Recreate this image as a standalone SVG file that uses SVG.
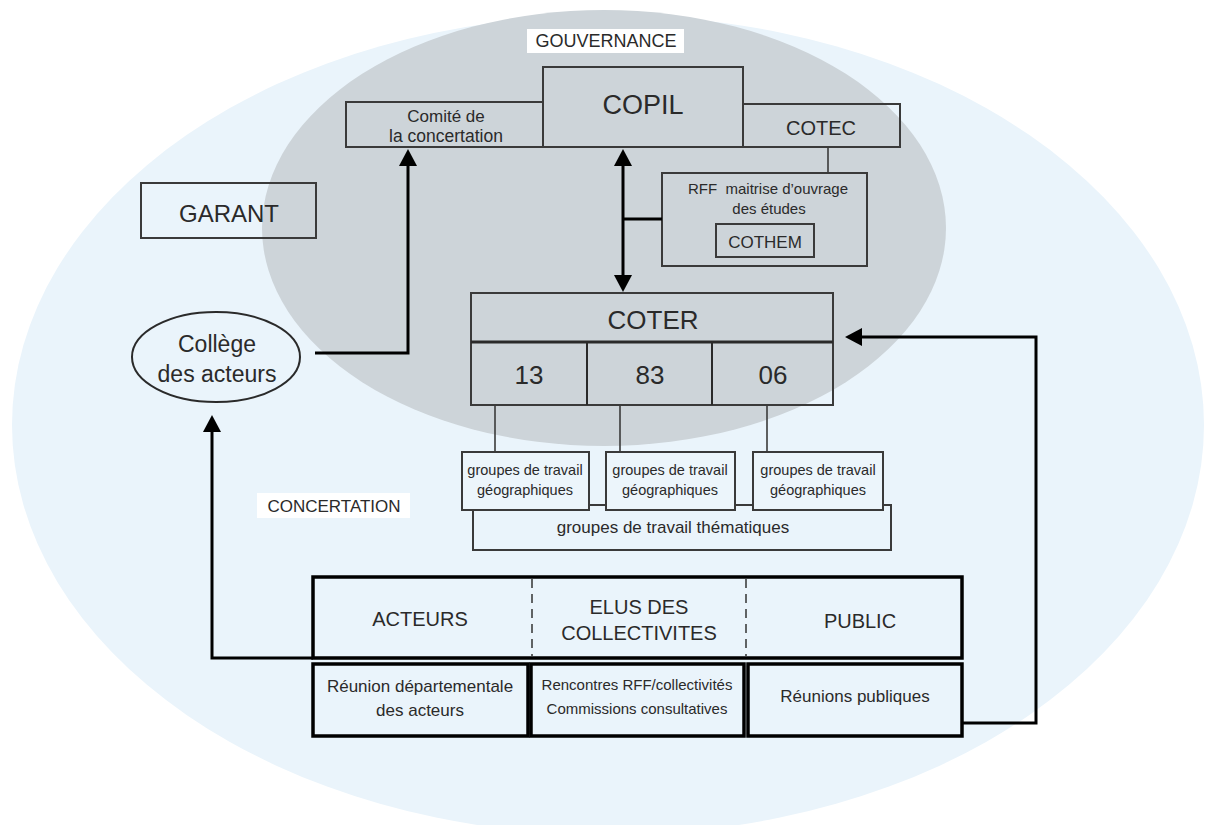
<svg xmlns="http://www.w3.org/2000/svg" width="1211" height="825" viewBox="0 0 1211 825">
<defs>
<marker id="ah" viewBox="0 0 17 18" refX="11" refY="9" markerWidth="17" markerHeight="18" markerUnits="userSpaceOnUse" orient="auto-start-reverse">
<path d="M0,0 L17,9 L0,18 z" fill="#000"/>
</marker>
<style>
text{font-family:"Liberation Sans",Arial,sans-serif;fill:#2a2a2a;text-anchor:middle}
.box{fill:none;stroke:#3a3a3a;stroke-width:2}
.geo{fill:#ecf5fb;stroke:#3a3a3a;stroke-width:2}
.bold{fill:none;stroke:#000;stroke-width:3.5}
.conn{fill:none;stroke:#000;stroke-width:3}
.thin{fill:none;stroke:#3a3a3a;stroke-width:1.6}
.dash{fill:none;stroke:#333;stroke-width:1.5;stroke-dasharray:9 6}
</style>
</defs>
<rect width="1211" height="825" fill="#fff"/>
<ellipse cx="608" cy="425" rx="596" ry="410" fill="#eaf4fb"/>
<ellipse cx="604" cy="228" rx="342" ry="218" fill="#cdd4d9"/>

<g id="labels">
<rect x="527" y="29" width="157" height="24" fill="#fff"/>
<text x="606" y="47" font-size="18">GOUVERNANCE</text>
<rect x="257" y="493" width="153" height="25" fill="#fff"/>
<text x="334" y="512" font-size="17">CONCERTATION</text>
</g>

<g id="comite">
<rect class="box" x="346" y="102" width="197" height="45"/>
<text x="446" y="122" font-size="17">Comité de</text>
<text x="446" y="142" font-size="17.5">la concertation</text>
</g>
<g id="copil">
<rect class="box" x="543" y="67" width="200" height="80"/>
<text x="643" y="114" font-size="27">COPIL</text>
</g>
<g id="cotec">
<rect class="box" x="743" y="104" width="157" height="43"/>
<text x="821" y="135" font-size="20">COTEC</text>
</g>
<g id="rff">
<rect class="box" x="662" y="173" width="205" height="93"/>
<text x="768" y="194" font-size="15" xml:space="preserve">RFF  maitrise d’ouvrage</text>
<text x="769" y="214" font-size="15">des études</text>
</g>
<g id="cothem">
<rect class="box" x="716" y="224" width="98" height="33"/>
<text x="765" y="248" font-size="17">COTHEM</text>
</g>
<g id="garant">
<rect class="box" x="141" y="183" width="175" height="55"/>
<text x="229" y="222" font-size="24">GARANT</text>
</g>
<g id="college">
<ellipse cx="216" cy="357" rx="84" ry="45" fill="none" stroke="#2a2a2a" stroke-width="2"/>
<text x="217" y="352" font-size="23">Collège</text>
<text x="217" y="382" font-size="23">des acteurs</text>
</g>
<g id="coter">
<rect class="box" x="471" y="293" width="362" height="112"/>
<line x1="471" y1="342" x2="833" y2="342" stroke="#2a2a2a" stroke-width="3"/>
<line x1="587" y1="342" x2="587" y2="405" stroke="#2a2a2a" stroke-width="2"/>
<line x1="712" y1="342" x2="712" y2="405" stroke="#2a2a2a" stroke-width="2"/>
<text x="653" y="329" font-size="26">COTER</text>
<text x="529" y="384" font-size="26">13</text>
<text x="650" y="384" font-size="26">83</text>
<text x="773" y="384" font-size="26">06</text>
</g>
<g id="thematiques">
<rect class="box" x="473" y="505" width="418" height="45"/>
<text x="673" y="533" font-size="17">groupes de travail thématiques</text>
</g>
<g id="geo13">
<rect class="geo" x="462" y="452" width="127" height="58"/>
<text x="525" y="475" font-size="14.5">groupes de travail</text>
<text x="525" y="495" font-size="14.5">géographiques</text>
</g>
<g id="geo83">
<rect class="geo" x="606" y="452" width="129" height="58"/>
<text x="670" y="475" font-size="14.5">groupes de travail</text>
<text x="670" y="495" font-size="14.5">géographiques</text>
</g>
<g id="geo06">
<rect class="geo" x="753" y="452" width="130" height="58"/>
<text x="818" y="475" font-size="14.5">groupes de travail</text>
<text x="818" y="495" font-size="14.5">géographiques</text>
</g>
<g id="publics">
<rect class="bold" x="313" y="577" width="649" height="81"/>
<line class="dash" x1="532" y1="579" x2="532" y2="656"/>
<line class="dash" x1="746" y1="579" x2="746" y2="656"/>
<text x="420" y="626" font-size="20">ACTEURS</text>
<text x="639" y="614" font-size="20">ELUS DES</text>
<text x="639" y="640" font-size="20">COLLECTIVITES</text>
<text x="860" y="628" font-size="20">PUBLIC</text>
</g>
<g id="reunion-acteurs">
<rect class="bold" x="313" y="664" width="215" height="72"/>
<text x="420" y="692" font-size="17">Réunion départementale</text>
<text x="420" y="716" font-size="17">des acteurs</text>
</g>
<g id="rencontres">
<rect class="bold" x="531" y="664" width="213" height="72"/>
<text x="637" y="690" font-size="15">Rencontres RFF/collectivités</text>
<text x="637" y="714" font-size="15">Commissions consultatives</text>
</g>
<g id="reunions-publiques">
<rect class="bold" x="748" y="664" width="214" height="72"/>
<text x="855" y="702" font-size="17">Réunions publiques</text>
</g>

<g id="connectors">
<path class="thin" d="M828,147 V173"/>
<path class="thin" d="M495,405 V452"/>
<path class="thin" d="M620,405 V452"/>
<path class="thin" d="M767,405 V452"/>
<path class="conn" d="M623,219 H662"/>
<path class="conn" d="M623,155 V286" marker-start="url(#ah)" marker-end="url(#ah)"/>
<path class="conn" d="M315,353 H408 V155" marker-end="url(#ah)"/>
<path class="conn" d="M313,658 H212 V421" marker-end="url(#ah)"/>
<path class="conn" d="M962,723 H1036 V337 H851" marker-end="url(#ah)"/>
</g>
</svg>
